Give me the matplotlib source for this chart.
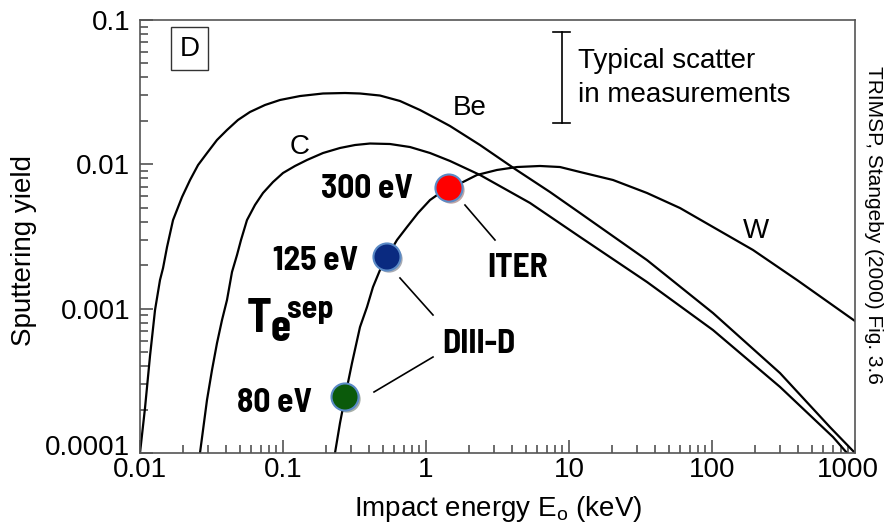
import numpy as np
import matplotlib
matplotlib.use("Agg")
import matplotlib.pyplot as plt
import matplotlib.patheffects as pe
from matplotlib.transforms import ScaledTranslation
from matplotlib.ticker import LogLocator, NullFormatter

plt.rcParams['font.family'] = ['Liberation Sans', 'DejaVu Sans']
plt.rcParams['font.size'] = 20
plt.rcParams['mathtext.fontset'] = 'custom'
plt.rcParams['mathtext.rm'] = 'Liberation Sans'

# sputtering yield curves (E in keV)
be_E = [0.01, 0.01084, 0.01175, 0.01274, 0.0138, 0.01449, 0.01545, 0.01702, 0.01968,
        0.02239, 0.02547, 0.02944, 0.03455, 0.04057, 0.04842, 0.05875, 0.07482,
        0.09526, 0.1315, 0.1905, 0.2716, 0.3455, 0.4766, 0.6577, 0.9077, 1.194,
        1.472, 2.386, 4.194, 7.364, 11.94, 35.12, 101.6, 298.9, 668.6, 1000]
be_Y = [1.0e-4, 2.05e-4, 4.70e-4, 9.80e-4, 1.58e-3, 1.91e-3, 2.67e-3, 4.11e-3, 5.94e-3,
        7.79e-3, 9.89e-3, 0.01198, 0.01475, 0.01729, 0.02029, 0.02305, 0.02577,
        0.02791, 0.02973, 0.03096, 0.03120, 0.03096, 0.02997, 0.02747, 0.02379, 0.02061,
        0.01843, 0.01361, 9.28e-3, 6.43e-3, 4.60e-3, 2.17e-3, 9.33e-4, 3.58e-4, 1.51e-4, 1.0e-4]

c_E = [0.02627, 0.02941, 0.03188, 0.03456, 0.03746, 0.04058, 0.04399, 0.04768, 0.05085,
       0.056, 0.0637, 0.07246, 0.08513, 0.1, 0.1213, 0.1472, 0.1905, 0.2504, 0.3188,
       0.406, 0.5601, 0.7728, 1.067, 1.472, 2.386, 5.337, 11.94, 35.12, 101.6, 298.9,
       702.0, 879.2]
c_Y = [1.0e-4, 2.33e-4, 3.76e-4, 5.78e-4, 8.35e-4, 1.148e-3, 1.795e-3, 2.353e-3, 2.99e-3,
       4.11e-3, 5.23e-3, 6.33e-3, 7.54e-3, 8.71e-3, 9.74e-3, 0.01072, 0.01198, 0.01298,
       0.01361, 0.01394, 0.01383, 0.01318, 0.01198, 0.01055, 8.44e-3, 5.40e-3, 3.14e-3,
       1.53e-3, 7.11e-4, 2.87e-4, 1.29e-4, 1.0e-4]

w_E = [0.231, 0.2504, 0.2715, 0.3038, 0.3455, 0.3868, 0.4259, 0.4768, 0.5337, 0.6267,
       0.7364, 0.8792, 1.067, 1.253, 1.448, 1.814, 2.273, 3.136, 4.329, 6.27, 8.652,
       11.94, 20.31, 35.12, 59.75, 101.6, 193.5, 392.9, 1000]
w_Y = [1.0e-4, 1.614e-4, 2.443e-4, 4.20e-4, 7.46e-4, 1.027e-3, 1.413e-3, 1.853e-3,
       2.28e-3, 2.99e-3, 3.68e-3, 4.60e-3, 5.66e-3, 6.33e-3, 6.85e-3, 7.54e-3, 8.44e-3,
       9.14e-3, 9.58e-3, 9.74e-3, 9.58e-3, 8.85e-3, 7.79e-3, 6.33e-3, 4.98e-3, 3.68e-3,
       2.55e-3, 1.58e-3, 8.21e-4]

# T_e^sep points on the W curve
pt_E = [0.2715, 0.5337, 1.448]
pt_Y = [2.443e-4, 2.28e-3, 6.85e-3]
pt_labels = ['80 eV', '125 eV', '300 eV']
pt_colors = ['#0b5a0b', '#0a2a80', '#ff0000']

xticks = [0.01, 0.1, 1, 10, 100, 1000]
xticklabels = ['0.01', '0.1', '1', '10', '100', '1000']
yticks = [0.0001, 0.001, 0.01, 0.1]
yticklabels = ['0.0001', '0.001', '0.01', '0.1']

fig = plt.figure(figsize=(8.88, 5.24), dpi=100)
ax = fig.add_axes([140/888, 1-453/524, 715/888, 433/524])

for E, Y in [(be_E, be_Y), (c_E, c_Y), (w_E, w_Y)]:
    ax.plot(E, Y, color='black', lw=1.6, solid_joinstyle='round', zorder=2)

ax.set_xscale('log')
ax.set_yscale('log')
ax.set_xlim(0.01, 1000)
ax.set_ylim(0.0001, 0.1)
ax.set_xticks(xticks, xticklabels)
ax.set_yticks(yticks, yticklabels)
ax.xaxis.set_minor_locator(LogLocator(base=10, subs=np.arange(2, 10)))
ax.yaxis.set_minor_locator(LogLocator(base=10, subs=np.arange(2, 10)))
ax.xaxis.set_minor_formatter(NullFormatter())
ax.yaxis.set_minor_formatter(NullFormatter())
ax.tick_params(which='major', direction='in', length=9.5, width=1.1, color='#444444')
ax.tick_params(which='minor', direction='in', length=6, width=1.1, color='#444444')
ax.tick_params(axis='x', pad=3)
ax.tick_params(axis='y', pad=7)
for s in ax.spines.values():
    s.set_color('#555555')
    s.set_linewidth(1.2)

# corner labels nudged apart like in the original
lab = ax.get_yticklabels()[0]
lab.set_transform(lab.get_transform() + ScaledTranslation(0, 0.08, fig.dpi_scale_trans))
lab = ax.get_xticklabels()[-1]
lab.set_transform(lab.get_transform() + ScaledTranslation(-0.07, 0, fig.dpi_scale_trans))

# points
shadow = [pe.SimplePatchShadow(offset=(1.5, -1.5), alpha=0.35), pe.Normal()]
for E, Y, c in zip(pt_E, pt_Y, pt_colors):
    ax.plot([E], [Y], 'o', ms=19.5, mfc=c, mec='#5a8ac6', mew=1.5, zorder=5,
            path_effects=shadow)

bold = dict(family=['Barlow Semi Condensed', 'DejaVu Sans'], weight='bold')
tr = ax.transAxes
ax.text(0.2406, 0.0947, pt_labels[0], fontsize=24, ha='right', va='baseline', transform=tr, **bold)
ax.text(0.3049, 0.4226, pt_labels[1], fontsize=24, ha='right', va='baseline', transform=tr, **bold)
ax.text(0.3818, 0.5889, pt_labels[2], fontsize=24, ha='right', va='baseline', transform=tr, **bold)
ax.text(0.4853, 0.4065, 'ITER', fontsize=24, ha='left', va='baseline', transform=tr, **bold)
ax.text(0.4224, 0.2309, 'DIII-D', fontsize=24, ha='left', va='baseline', transform=tr, **bold)
ax.text(0.1497, 0.2794, 'T', fontsize=34, ha='left', va='baseline', transform=tr, **bold)
ax.text(0.1832, 0.2587, 'e', fontsize=33, ha='left', va='baseline', transform=tr,
        family=['Barlow Condensed', 'DejaVu Sans'], weight='bold')
ax.text(0.2056, 0.3125, 'sep', fontsize=23, ha='left', va='baseline', transform=tr, **bold)

# leader lines
lk = dict(color='black', lw=1.2, transform=tr, zorder=3)
ax.plot([0.4545, 0.4965], [0.5727, 0.4919], **lk)
ax.plot([0.3636, 0.4098], [0.4042, 0.3187], **lk)
ax.plot([0.4098, 0.3273], [0.2217, 0.1409], **lk)

# curve labels
ax.text(0.4378, 0.7806, 'Be', fontsize=20, va='baseline', transform=tr)
ax.text(0.2098, 0.6905, 'C', fontsize=20, va='baseline', transform=tr)
ax.text(0.8434, 0.4965, 'W', fontsize=20, va='baseline', transform=tr)

# typical scatter bar
ax.plot([0.5902, 0.5902], [0.7630, 0.9723], color='black', lw=1.2, transform=tr)
ax.plot([0.5776, 0.6014], [0.9723, 0.9723], color='black', lw=1.2, transform=tr)
ax.plot([0.5776, 0.6014], [0.7630, 0.7630], color='black', lw=1.2, transform=tr)
ax.text(0.6126, 0.8891, 'Typical scatter', fontsize=20, va='baseline', transform=tr)
ax.text(0.6126, 0.8106, 'in measurements', fontsize=20, va='baseline', transform=tr)

ax.text(0.069, 0.934, 'D', fontsize=20, ha='center', va='center', transform=tr,
        bbox=dict(boxstyle='square,pad=0.3', fc='white', ec='#333333', lw=1.0))

fig.text(24/888, 1-251/524, 'Sputtering yield', rotation=90, ha='center', va='center', fontsize=20)
fig.text(498/888, 1-516/524, r'Impact energy E$_{\mathregular{o}}$ (keV)', ha='center',
         va='baseline', fontsize=20)
fig.text(873/888, 1-225/524, 'TRIMSP, Stangeby (2000) Fig. 3.6', rotation=-90,
         ha='center', va='center', fontsize=15)

fig.savefig('out.png', dpi=100)
